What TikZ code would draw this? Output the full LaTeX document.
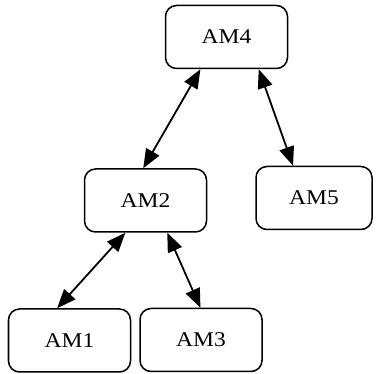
\documentclass[tikz,border=0pt]{standalone}
\usepackage{fontspec}
\setmainfont{Liberation Serif}[FakeStretch=1.12]
\usetikzlibrary{arrows.meta}
\begin{document}
\begin{tikzpicture}[x=1pt, y=-1pt,
  am/.style={draw, line width=1.5pt, rounded corners=11pt, inner sep=0pt,
    minimum width=122pt, minimum height=63pt,
    font=\fontsize{21}{21}\selectfont},
  link/.style={line width=1.8pt,
    {Triangle[length=19pt, width=15pt]}-{Triangle[length=19pt, width=15pt]}}]
  \useasboundingbox (0,0) rectangle (376,374);
  % agent nodes
  \node[am] (am4) at (226.5,37) {AM4};
  \node[am] (am2) at (145.5,200.5) {AM2};
  \node[am, minimum width=116pt] (am5) at (314,198) {AM5};
  \node[am] (am1) at (69.5,340.5) {AM1};
  \node[am] (am3) at (201,340) {AM3};
  % bidirectional links
  \draw[link] (am4.-129.6) -- (am2.94.4);
  \draw[link] (am4.-45.4) -- (am5.123.3);
  \draw[link] (am2.-122.2) -- (am1.111.6);
  \draw[link] (am2.-56.5) -- (am3.91.8);
\end{tikzpicture}
\end{document}
